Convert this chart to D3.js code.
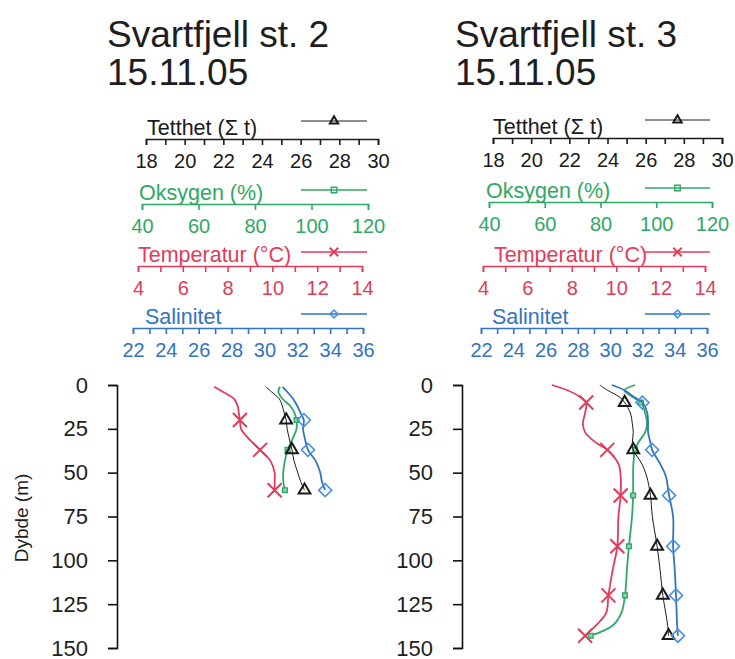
<!DOCTYPE html>
<html>
<head>
<meta charset="utf-8">
<script src="https://cdn.jsdelivr.net/npm/d3@7"></script>
<style>
  body { margin: 0; background: #fff; }
  svg { display: block; font-family: "Liberation Sans", Arial, sans-serif; }
</style>
</head>
<body>
<div id="chart"></div>
<script>
// station 2 (15.11.05) - depth in m, one value per depth for each variable
const depthSt2   = [1, 4, 8, 12, 16, 20, 25, 30, 37, 43, 50, 55, 60];
const tempSt2    = [7.4, 7.8, 8.3, 8.45, 8.5, 8.55, 8.6, 8.9, 9.45, 9.9, 10.1, 10.1, 10.1];
const densSt2    = [24.2, 24.5, 24.9, 25.05, 25.15, 25.25, 25.3, 25.4, 25.55, 25.65, 25.85, 26.0, 26.2];
const oxySt2     = [88.8, 88.3, 89.8, 92.5, 94.0, 94.7, 94.7, 93.5, 91.5, 90.6, 90.0, 90.0, 90.6];
const salSt2     = [31.1, 31.4, 31.75, 32.0, 32.2, 32.4, 32.35, 32.45, 32.65, 33.1, 33.4, 33.5, 33.7];
const markSt2    = [20, 37, 60];

// station 3 (15.11.05)
const depthSt3   = [0, 3, 7, 10, 16, 22, 27, 33, 37, 45, 52, 63, 75, 92, 105, 120, 130, 137, 143];
const tempSt3    = [7.1, 7.8, 8.4, 8.65, 8.6, 8.5, 8.6, 9.1, 9.6, 10.1, 10.2, 10.2, 10.1, 10.05, 9.85, 9.65, 9.55, 9.1, 8.6];
const densSt3    = [23.6, 24.0, 24.65, 24.9, 25.2, 25.3, 25.35, 25.3, 25.35, 25.8, 26.05, 26.25, 26.35, 26.6, 26.75, 26.9, 27.05, 27.15, 27.2];
const oxySt3     = [92.4, 88.5, 91.7, 94.5, 96.0, 96.7, 96.0, 93.5, 92.4, 91.8, 91.7, 91.7, 91.3, 90.2, 89.5, 88.8, 87.5, 84.5, 76.5];
const salSt3     = [30.1, 30.9, 31.5, 32.0, 32.3, 32.35, 32.35, 32.5, 32.6, 33.1, 33.45, 33.65, 33.9, 33.9, 34.0, 34.08, 34.12, 34.15, 34.2];
const markSt3    = [10, 37, 63, 92, 120, 143];

// axis ticks and labels
const densTicks  = [18,19,20,21,22,23,24,25,26,27,28,29,30];
const densLabels = [18,20,22,24,26,28,30];
const oxyTicks   = [40,60,80,100,120];
const oxyLabels  = [40,60,80,100,120];
const tempTicks  = [4,5,6,7,8,9,10,11,12,13,14];
const tempLabels = [4,6,8,10,12,14];
const salTicks   = [22,23,24,25,26,27,28,29,30,31,32,33,34,35,36];
const salLabels  = [22,24,26,28,30,32,34,36];
const depthTicks = [0,25,50,75,100,125,150];

const W = 735, H = 659;
const svg = d3.select('#chart').append('svg').attr('width', W).attr('height', H);

const col = {dens: '#1a1a1a', oxy: '#2fa865', temp: '#e23c5a', sal: '#3274bf'};

const vars = [
  {key: 'dens', title: 'Tetthet (\u03A3 t)', domain: [18, 30], ticks: densTicks, labels: densLabels, mark: 'tri'},
  {key: 'oxy',  title: 'Oksygen (%)',       domain: [40, 120], ticks: oxyTicks, labels: oxyLabels, mark: 'sq'},
  {key: 'temp', title: 'Temperatur (\u00B0C)', domain: [4, 14], ticks: tempTicks, labels: tempLabels, mark: 'x'},
  {key: 'sal',  title: 'Salinitet',         domain: [22, 36], ticks: salTicks, labels: salLabels, mark: 'dia'}
];

// axes: [x start, x end, y, title x]
const panels = [
  {title: 'Svartfjell st. 2', date: '15.11.05', tx: 107, yx: 117,
   axes: {dens: [146, 378, 139, 147], oxy: [142, 368, 204, 139], temp: [138, 362, 266, 138], sal: [133, 363, 328, 145]},
   leg: [301, 367],
   depth: depthSt2, vals: {dens: densSt2, oxy: oxySt2, temp: tempSt2, sal: salSt2}, marks: markSt2},
  {title: 'Svartfjell st. 3', date: '15.11.05', tx: 455, yx: 462,
   axes: {dens: [493, 722, 138, 493], oxy: [489, 712, 202, 486], temp: [483, 705, 266, 494], sal: [481, 707, 328, 492]},
   leg: [645, 710],
   depth: depthSt3, vals: {dens: densSt3, oxy: oxySt3, temp: tempSt3, sal: salSt3}, marks: markSt3}
];

const scaleDepth = d3.scaleLinear().domain([0, 150]).range([385, 648]);

function drawMark(g, type, x, y, c, big) {
  const k = big ? 1 : 0.6;
  if (type === 'x') {
    const r = 7 * k;
    g.append('path')
      .attr('d', `M${x - r},${y - r}L${x + r},${y + r}M${x - r},${y + r}L${x + r},${y - r}`)
      .attr('stroke', c).attr('stroke-width', 2).attr('fill', 'none');
  } else if (type === 'tri') {
    g.append('path')
      .attr('d', d3.symbol(d3.symbolTriangle, big ? 60 : 30)())
      .attr('transform', `translate(${x},${y})`)
      .attr('stroke', c).attr('stroke-width', 2).attr('fill', 'none');
  } else if (type === 'dia') {
    g.append('path')
      .attr('d', d3.symbol(d3.symbolSquare, big ? 85 : 30)())
      .attr('transform', `translate(${x},${y}) rotate(45)`)
      .attr('stroke', '#4a8fdc').attr('stroke-width', 1.6).attr('fill', 'none');
  } else {
    g.append('path')
      .attr('d', d3.symbol(d3.symbolSquare, big ? 22 : 30)())
      .attr('transform', `translate(${x},${y})`)
      .attr('stroke', c).attr('stroke-width', 1.4).attr('fill', big ? '#8fd6a8' : 'none');
  }
}

panels.forEach(function(p) {
  const g = svg.append('g');

  g.append('text').attr('x', p.tx).attr('y', 47).text(p.title)
    .attr('font-size', 37).attr('fill', '#1e1e1e');
  g.append('text').attr('x', p.tx).attr('y', 85).text(p.date)
    .attr('font-size', 37).attr('fill', '#1e1e1e');

  // top axes, one per variable
  const xs = {};
  vars.forEach(function(v) {
    const a = p.axes[v.key];
    const c = col[v.key];
    const sc = d3.scaleLinear().domain(v.domain).range([a[0], a[1]]);
    xs[v.key] = sc;

    const ax = g.append('g')
      .attr('transform', `translate(0,${a[2]})`)
      .call(d3.axisBottom(sc).tickValues(v.ticks).tickSize(6).tickSizeOuter(6)
        .tickFormat(d => v.labels.includes(d) ? d : ''));
    ax.select('.domain').attr('stroke', c).attr('stroke-width', 1.6);
    ax.selectAll('.tick line').attr('stroke', c).attr('stroke-width', 1.6);
    ax.selectAll('.tick text').attr('fill', c).attr('font-size', 20)
      .attr('dy', 0).attr('y', 29)
      .attr('font-family', '"Liberation Sans", Arial, sans-serif');

    g.append('text').attr('x', a[3]).attr('y', a[2] - 4).text(v.title)
      .attr('font-size', 21.5).attr('fill', c);

    // legend sample
    const ly = a[2] - (v.key === 'dens' ? 18 : 14);
    g.append('line').attr('x1', p.leg[0]).attr('x2', p.leg[1]).attr('y1', ly).attr('y2', ly)
      .attr('stroke', c).attr('stroke-width', v.key === 'dens' ? 1 : 1.6);
    drawMark(g, v.mark, (p.leg[0] + p.leg[1]) / 2, ly, c, false);
  });

  // depth axis
  const ya = g.append('g')
    .attr('transform', `translate(${p.yx},0)`)
    .call(d3.axisLeft(scaleDepth).tickValues(depthTicks).tickSize(9).tickPadding(20));
  ya.select('.domain').attr('stroke', '#111').attr('stroke-width', 1.6);
  ya.selectAll('.tick line').attr('stroke', '#111').attr('stroke-width', 1.6);
  ya.selectAll('.tick text').attr('font-size', 22).attr('fill', '#1e1e1e')
    .attr('font-family', '"Liberation Sans", Arial, sans-serif');

  // profiles
  const order = ['temp', 'oxy', 'dens', 'sal'];
  order.forEach(function(k) {
    const v = vars.find(d => d.key === k);
    const pts = p.depth.map((d, i) => ({depth: d, val: p.vals[k][i]}));
    const line = d3.line()
      .x(d => xs[k](d.val))
      .y(d => scaleDepth(d.depth))
      .curve(d3.curveCatmullRom);
    g.append('path').datum(pts).attr('d', line)
      .attr('fill', 'none').attr('stroke', col[k])
      .attr('stroke-width', k === 'dens' ? 1 : 1.8);
    pts.filter(d => p.marks.includes(d.depth)).forEach(function(d) {
      drawMark(g, v.mark, xs[k](d.val), scaleDepth(d.depth), col[k], true);
    });
  });
});

svg.append('text')
  .attr('transform', 'translate(28,518) rotate(-90)')
  .attr('text-anchor', 'middle')
  .attr('font-size', 19).attr('fill', '#1e1e1e')
  .text('Dybde (m)');
</script>
</body>
</html>
